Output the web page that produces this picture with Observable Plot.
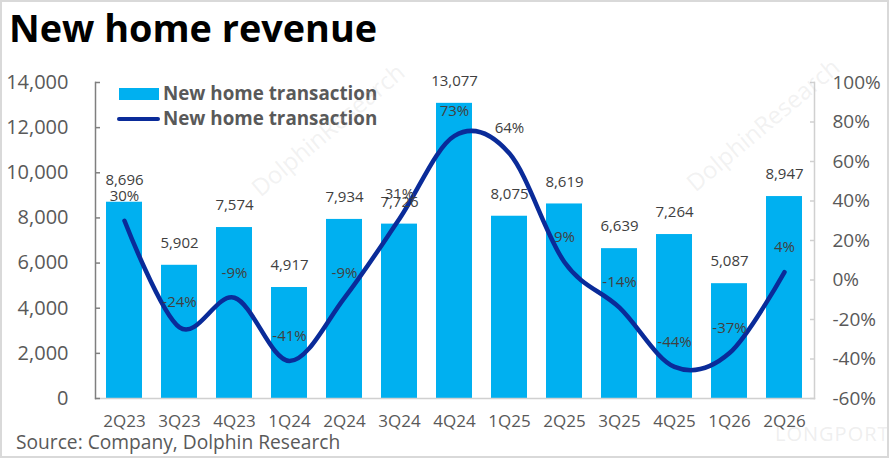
<!DOCTYPE html>
<html><head><meta charset="utf-8">
<script src="https://cdn.jsdelivr.net/npm/d3@7"></script>
<script src="https://cdn.jsdelivr.net/npm/@observablehq/plot@0.6"></script>
<style>
body{margin:0;background:#fff;}
#wrap{position:relative;width:890px;height:459px;overflow:hidden;font-family:"Open Sans",sans-serif;background:#fff;}
#title{position:absolute;left:9px;top:9px;font-size:37.8px;font-weight:700;color:#000;line-height:1;letter-spacing:0;}
#chart{position:absolute;left:0;top:62px;}
#source{position:absolute;left:16px;top:432px;font-size:19.2px;color:#595959;line-height:1;}
#legend{position:absolute;left:0;top:0;}
.li{position:absolute;font-size:18.8px;font-weight:700;color:#595959;line-height:1;white-space:nowrap;}
.sw{position:absolute;}
#border{position:absolute;left:0;top:0;width:889px;height:458px;border:2px solid #d9d9d9;box-sizing:border-box;pointer-events:none;}
.wm{position:absolute;font-size:24px;color:rgba(190,190,190,0.2);transform:rotate(-40deg);transform-origin:left bottom;white-space:nowrap;pointer-events:none;}
</style></head>
<body><div id="wrap">
<div id="title">New home revenue</div>
<div id="chart"></div>
<div id="legend"></div>
<div id="source">Source: Company, Dolphin Research</div>
<div class="wm" style="left:265px;top:170px;">DolphinResearch</div>
<div class="wm" style="left:700px;top:165px;">DolphinResearch</div>
<div style="position:absolute;left:775px;top:420px;font-size:20px;color:rgba(200,200,200,0.3);letter-spacing:1px;">LONGPORT</div>
<div id="border"></div>
</div>
<script>
const quarters = ["2Q23","3Q23","4Q23","1Q24","2Q24","3Q24","4Q24","1Q25","2Q25","3Q25","4Q25","1Q26","2Q26"];
const revenue = [8696,5902,7574,4917,7934,7726,13077,8075,8619,6639,7264,5087,8947];
const yoy = [30,-24,-9,-41,-9,31,73,64,9,-14,-44,-37,4];
const leftTicks = [0,2000,4000,6000,8000,10000,12000,14000];
const rightTicks = [-60,-40,-20,0,20,40,60,80,100];
const legendLabels = ["New home transaction","New home transaction"];

const barColor = "#00B0F0";
const lineColor = "#0A2B99";
const LMAX = 14000, RMIN = -60, RMAX = 100;
const toLeft = p => (p - RMIN) / (RMAX - RMIN) * LMAX;
const toRight = v => v / LMAX * (RMAX - RMIN) + RMIN;

const data = quarters.map((q, i) => ({q, rev: revenue[i], yoy: yoy[i], yl: toLeft(yoy[i])}));

const chart = Plot.plot({
  width: 890, height: 372,
  marginLeft: 95, marginRight: 76, marginTop: 20, marginBottom: 36,
  x: {domain: quarters, paddingInner: 0.34, paddingOuter: 0.17, label: null},
  y: {domain: [0, LMAX], label: null},
  style: {fontFamily: "Open Sans, sans-serif", background: "transparent"},
  marks: [
    Plot.barY(data, {x: "q", y: "rev", fill: barColor}),
    Plot.frame({anchor: "bottom", stroke: "#d0d0d0", strokeWidth: 1.5}),
    Plot.frame({anchor: "right", stroke: "#d0d0d0", strokeWidth: 1.5}),
    Plot.frame({anchor: "left", stroke: "#7f7f7f", strokeWidth: 1.5}),
    Plot.axisY(leftTicks, {anchor: "left", tickSize: 5, insetLeft: 5, tickPadding: 27,
      tickFormat: d3.format(","), fontSize: 20, fill: "#595959", stroke: "#7f7f7f", strokeWidth: 1.5}),
    Plot.axisY(rightTicks.map(toLeft), {anchor: "right", tickSize: 5, insetRight: 5, tickPadding: 18,
      tickFormat: d => Math.round(toRight(d)) + "%", fontSize: 19, fill: "#595959", stroke: "#d0d0d0", strokeWidth: 1.5}),
    Plot.axisX({anchor: "bottom", tickSize: 0, tickPadding: 16, fontSize: 17, fill: "#595959"}),
    Plot.line(data, {x: "q", y: "yl", curve: "cardinal", stroke: lineColor, strokeWidth: 4.5, strokeLinecap: "round"}),
    Plot.text(data, {x: "q", y: "rev", text: d => d3.format(",")(d.rev), dy: -22, fontSize: 15, fill: "#404040"}),
    Plot.text(data, {x: "q", y: "yl", text: d => d.yoy + "%", dy: -25, fontSize: 15, fill: "#404040"})
  ]
});
document.getElementById("chart").appendChild(chart);

const leg = document.getElementById("legend");
leg.innerHTML =
  `<div class="sw" style="left:119px;top:88px;width:40px;height:12px;background:${barColor}"></div>` +
  `<div class="li" style="left:163px;top:83.5px;">${legendLabels[0]}</div>` +
  `<div class="sw" style="left:117px;top:116.5px;width:43px;height:4.5px;border-radius:2px;background:${lineColor}"></div>` +
  `<div class="li" style="left:163px;top:108.5px;">${legendLabels[1]}</div>`;
</script>
</body></html>
